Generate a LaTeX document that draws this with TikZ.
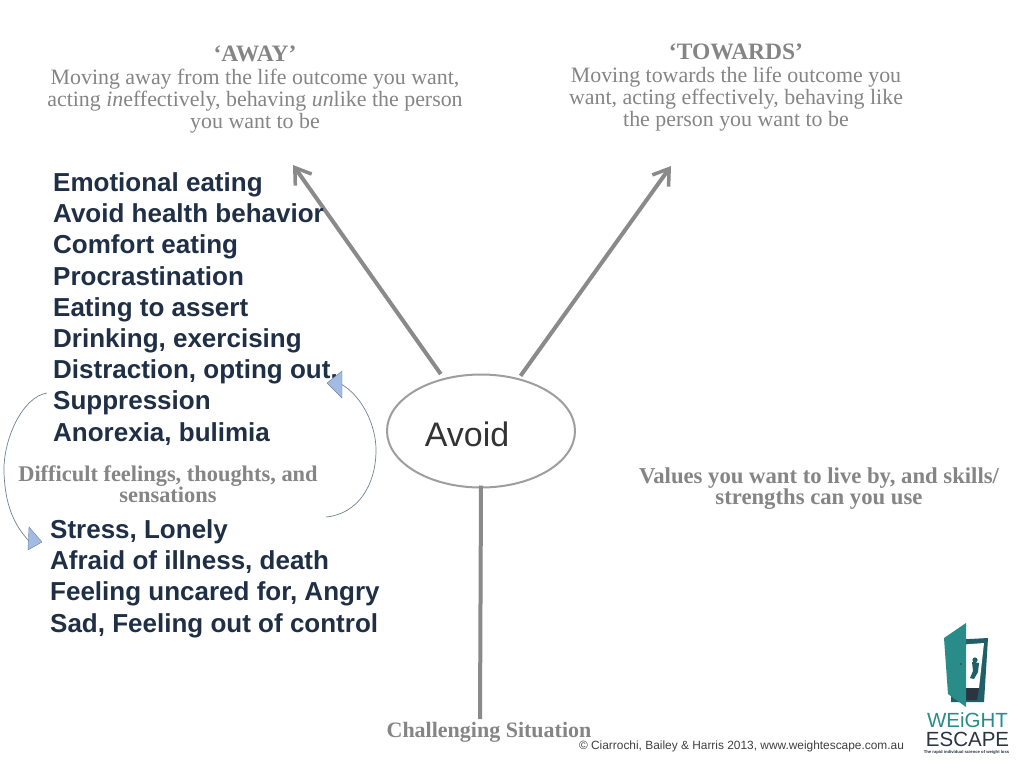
\documentclass[tikz,border=0pt]{standalone}
\usepackage{fontspec}
\setmainfont{Liberation Sans}
\newfontfamily\serifgray{Liberation Serif}
\usetikzlibrary{arrows.meta,shapes.geometric}
\definecolor{navy}{HTML}{1F2F46}
\definecolor{graytxt}{HTML}{858585}
\definecolor{grayarrow}{HTML}{8A8A8A}
\definecolor{tipblue}{HTML}{A3BBE3}
\definecolor{tipedge}{HTML}{6F8296}
\definecolor{teal1}{HTML}{2A8C88}
\definecolor{teal2}{HTML}{1F5F66}
\definecolor{dark1}{HTML}{2B3440}
\tikzset{
 listtxt/.style={align=left,anchor=north west,inner sep=0pt,text=navy,font=\fontsize{26}{31.2}\selectfont\bfseries},
 headtxt/.style={align=center,inner sep=0pt,text=graytxt,font=\serifgray\fontsize{21.9}{22}\selectfont},
 boldgray/.style={align=center,inner sep=0pt,text=graytxt,font=\serifgray\bfseries\fontsize{22.4}{20.8}\selectfont},
 bigarrow/.style={draw=grayarrow,line width=4pt,-{Straight Barb[length=15pt,width=20pt,line width=3.5pt]}},
 thin curve/.style={draw=tipedge,line width=0.7pt},
 tiptri/.style={fill=tipblue,draw=tipedge,line width=0.4pt},
}
\begin{document}
\begin{tikzpicture}[x=1pt,y=-1pt]
\useasboundingbox (0,0) rectangle (1024,768);
\fill[white] (0,0) rectangle (1024,768);
% headings
\node[headtxt] (away) at (255,90) {{\bfseries\fontsize{23.5}{22}\selectfont ‘AWAY’}\\[1pt]Moving away from the life outcome you want,\\acting \textit{in}effectively, behaving \textit{un}like the person\\you want to be};
\node[headtxt] (towards) at (736,88) {{\bfseries\fontsize{23.5}{22}\selectfont ‘TOWARDS’}\\[1pt]Moving towards the life outcome you\\want, acting effectively, behaving like\\the person you want to be};
% hub
\node[draw=black!38,line width=2pt,fill=white,ellipse,minimum width=188pt,minimum height=113pt,inner sep=0pt] (hub) at (481,431) {};
\node[inner sep=0pt,font=\fontsize{34}{36}\selectfont,text=black!80] (avoidlabel) at (467,434) {Avoid};
\coordinate (awaytip) at (293,165);
\coordinate (towardstip) at (671,166);
\coordinate (sitbottom) at (480,719);
\draw[bigarrow,shorten <=5pt] (hub) -- (awaytip);
\draw[bigarrow,shorten <=3pt] (hub) -- (towardstip);
\draw[draw=grayarrow,line width=4pt] ([yshift=3pt]hub.south) -- (sitbottom);
% lists
\node[listtxt] (actions) at (53,172.5) {Emotional eating\\Avoid health behavior\\Comfort eating\\Procrastination\\Eating to assert\\Drinking, exercising\\Distraction, opting out.\\Suppression\\Anorexia, bulimia};
\node[boldgray] (difficult) at (168,484.5) {Difficult feelings, thoughts, and\\sensations};
\node[listtxt] (feelings) at (50,519.5) {Stress, Lonely\\Afraid of illness, death\\Feeling uncared for, Angry\\Sad, Feeling out of control};
\node[boldgray,font=\serifgray\bfseries\fontsize{22.7}{20.8}\selectfont] (values) at (819,488.5) {Values you want to live by, and skills/\\strengths can you use};
\node[boldgray,font=\serifgray\bfseries\fontsize{22}{20.8}\selectfont] (situation) at (489,732) {Challenging Situation};
\node[inner sep=0pt,font=\fontsize{11.9}{14}\selectfont,text=black!75] (credit) at (741.5,746) {© Ciarrochi, Bailey \& Harris 2013, www.weightescape.com.au};
% curved loop arrows
\coordinate (lefta) at (47,393);
\coordinate (leftb) at (29,541);
\coordinate (righta) at (326,517);
\coordinate (rightb) at (341,384);
\draw[thin curve] (lefta) .. controls (22,397) and (3,440) .. (4,472) .. controls (5,505) and (14,525) .. (leftb);
\draw[thin curve] (righta) .. controls (358,514) and (376,485) .. (376,450) .. controls (376,425) and (362,396) .. (rightb);
\draw[tiptri] (29,527) -- (42,542) -- (28,550) -- cycle;
\draw[tiptri] (342,371) -- (327,383) -- (342,398) -- cycle;
% logo
\fill[teal2] (951,640) -- (988,638) -- (984,702) -- (951,702) -- cycle;
\fill[white] (957,645) -- (984,643) -- (979,688) -- (962,688) -- cycle;
\fill[dark1] (962,688) -- (979,688) -- (977,700) -- (962,700) -- cycle;
\fill[teal2] (975,660) circle (2.6) (972,662) -- (979,663) -- (978,672) -- (974,679) -- (970,678) -- (973,671) -- cycle;
\fill[teal1] (944,638) -- (966,623) -- (966,707) -- (948,694) -- cycle;
\fill[dark1] (961,664) circle (0.9);
\node[inner sep=0pt,font=\fontsize{20.5}{22}\selectfont,text=teal1] (logoa) at (967.5,720.5) {WEiGHT};
\node[inner sep=0pt,font=\fontsize{20.5}{22}\selectfont,text=dark1] (logob) at (967.5,739) {ESCAPE};
\node[inner sep=0pt,font=\fontsize{4.2}{5}\selectfont\bfseries,text=dark1] (logoc) at (966.5,752.5) {The rapid individual science of weight loss};
\end{tikzpicture}
\end{document}
